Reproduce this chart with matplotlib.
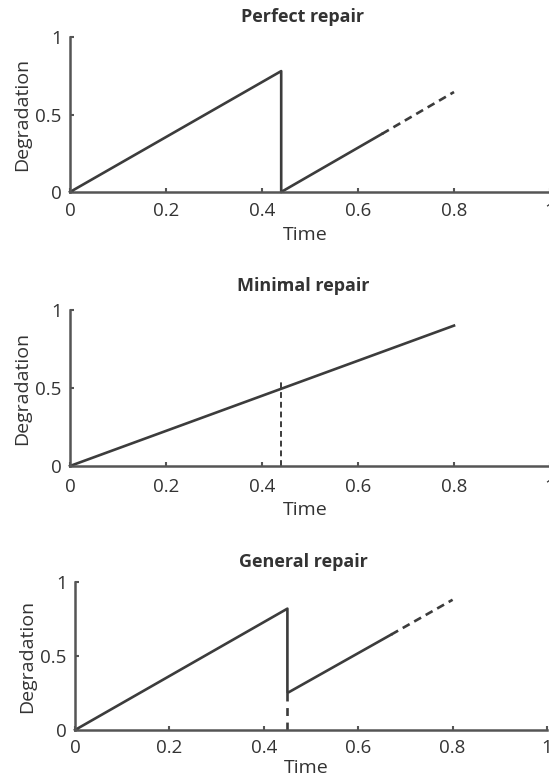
import matplotlib
matplotlib.use("Agg")
import matplotlib.pyplot as plt

plt.rcParams['font.family'] = ['Open Sans', 'DejaVu Sans']

titles = ["Perfect repair", "Minimal repair", "General repair"]
x_ticks = [0, 0.2, 0.4, 0.6, 0.8, 1]
x_tick_labels = ["0", "0.2", "0.4", "0.6", "0.8", "1"]
y_ticks = [0, 0.5, 1]
y_tick_labels = ["0", "0.5", "1"]

# perfect repair: solid path, then dashed continuation
perfect_x = [0, 0.44, 0.44, 0.65]
perfect_y = [0, 0.78, 0.0, 0.375]
perfect_dash_x = [0.65, 0.80]
perfect_dash_y = [0.375, 0.645]

# minimal repair: one line and a dashed marker at the repair time
minimal_x = [0, 0.80]
minimal_y = [0, 0.90]
minimal_mark_x = [0.44, 0.44]
minimal_mark_y = [0, 0.54]

# general repair
general_x = [0, 0.45, 0.45, 0.67]
general_y = [0, 0.82, 0.25, 0.645]
general_dash_x = [0.67, 0.80]
general_dash_y = [0.645, 0.88]
general_mark_x = [0.45, 0.45]
general_mark_y = [0, 0.25]

line_col = "#3c3c3c"
axis_col = "#555555"
text_col = "#333333"

fig = plt.figure(figsize=(5.49, 7.80), dpi=100)

# axes boxes in pixels: left, y of zero line, width, height
px_boxes = [
    (70, 192, 480, 155),
    (70, 466, 480, 156),
    (75, 730, 472, 148),
]
# gap (px) from axes top to title baseline, axis to tick label top, axis to xlabel top
title_gap = [15, 19, 15]
tick_gap = [14, 16, 13]
label_gap = [34, 35, 29]

axes = []
for (l, b, w, h) in px_boxes:
    axes.append(fig.add_axes([l / 549, 1 - b / 780, w / 549, h / 780]))

for i, (ax, title) in enumerate(zip(axes, titles)):
    h = px_boxes[i][3]
    ax.set_xlim(0, 1)
    ax.set_ylim(0, 1)
    for s in ["top", "right"]:
        ax.spines[s].set_visible(False)
    for s in ["left", "bottom"]:
        ax.spines[s].set_color(axis_col)
        ax.spines[s].set_linewidth(1.8)
    ax.set_xticks(x_ticks)
    ax.set_xticklabels(x_tick_labels)
    ax.set_yticks(y_ticks)
    ax.set_yticklabels(y_tick_labels)
    ax.tick_params(direction="in", length=3, width=1.5, color=axis_col,
                   labelsize=13.5, labelcolor=text_col)
    ax.tick_params(axis="x", pad=tick_gap[i] * 0.72 - 3)
    ax.tick_params(axis="y", pad=6)
    ax.set_ylabel("Degradation", fontsize=14, color=text_col, labelpad=3)
    ax.set_xlabel("Time", fontsize=14, color=text_col)
    ax.xaxis.set_label_coords(0.49, -label_gap[i] / h)
    ax.text(0.485, 1 + title_gap[i] / h, title, transform=ax.transAxes,
            ha="center", va="baseline", fontsize=13, fontweight="bold",
            color=text_col)
    ax.patch.set_visible(False)

lw = 1.9
ax1, ax2, ax3 = axes
ax1.plot(perfect_x, perfect_y, color=line_col, lw=lw, clip_on=False)
ax1.plot(perfect_dash_x, perfect_dash_y, color=line_col, lw=lw,
         dashes=(3, 2), clip_on=False)

ax2.plot(minimal_x, minimal_y, color=line_col, lw=lw, clip_on=False)
ax2.plot(minimal_mark_x, minimal_mark_y, color=line_col, lw=1.4,
         dashes=(3, 2), clip_on=False)

ax3.plot(general_x, general_y, color=line_col, lw=lw, clip_on=False)
ax3.plot(general_dash_x, general_dash_y, color=line_col, lw=lw,
         dashes=(3, 2), clip_on=False)
ax3.plot(general_mark_x, general_mark_y, color=line_col, lw=lw,
         dashes=(3, 2.5), clip_on=False)

fig.savefig("out.png", dpi=100)
